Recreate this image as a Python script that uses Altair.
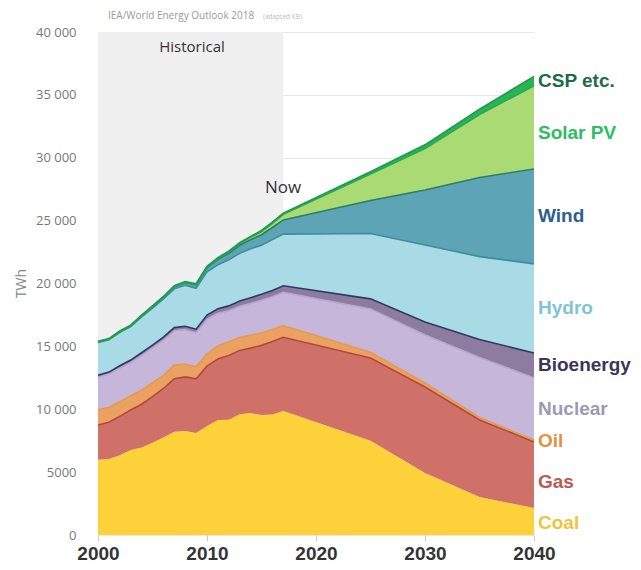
import altair as alt
import pandas as pd

# ---------------- data (TWh) ----------------
years = [2000, 2001, 2002, 2003, 2004, 2005, 2006, 2007, 2008, 2009, 2010,
         2011, 2012, 2013, 2014, 2015, 2016, 2017, 2025, 2030, 2035, 2040]

coal = [5994, 6050, 6350, 6760, 6950, 7330, 7760, 8220, 8270, 8120, 8660,
        9140, 9170, 9600, 9700, 9540, 9590, 9860, 7500, 4930, 3020, 2150]
gas = [2750, 2910, 3080, 3180, 3450, 3680, 3890, 4200, 4300, 4300, 4770,
       4860, 5100, 5080, 5160, 5540, 5790, 5860, 6580, 6840, 6130, 5250]
oil = [1212, 1180, 1160, 1140, 1120, 1100, 1050, 1100, 1030, 960, 970,
       1040, 1100, 1030, 1020, 1010, 960, 940, 450, 320, 190, 160]
nuclear = [2591, 2653, 2696, 2640, 2766, 2768, 2793, 2719, 2731, 2697, 2756,
           2584, 2461, 2478, 2535, 2571, 2606, 2637, 3450, 3810, 4780, 4930]
bioenergy = [155, 160, 175, 190, 205, 220, 235, 255, 270, 290, 330,
             360, 390, 420, 450, 480, 500, 520, 800, 1040, 1420, 1990]
hydro = [2618, 2570, 2650, 2660, 2850, 2950, 3040, 3080, 3260, 3250, 3440,
         3500, 3660, 3790, 3900, 3900, 4050, 4110, 5200, 6120, 6600, 7080]
wind = [31, 38, 52, 63, 85, 104, 133, 171, 220, 275, 342,
        437, 524, 640, 712, 838, 960, 1130, 2620, 4370, 6290, 7550]
solar_pv = [1, 1, 2, 2, 3, 4, 6, 8, 12, 21, 32,
            64, 100, 139, 190, 250, 330, 440, 2100, 3300, 5010, 6610]
csp_etc = [53, 54, 55, 57, 58, 60, 62, 64, 66, 68, 70,
           72, 74, 78, 80, 85, 90, 100, 180, 300, 420, 750]

series = ["Coal", "Gas", "Oil", "Nuclear", "Bioenergy", "Hydro", "Wind",
          "Solar PV", "CSP etc."]
series_values = [coal, gas, oil, nuclear, bioenergy, hydro, wind, solar_pv, csp_etc]

y_ticks = [0, 5000, 10000, 15000, 20000, 25000, 30000, 35000, 40000]
x_ticks = [2000, 2010, 2020, 2030, 2040]
historical_start, historical_end = 2000, 2017

# ---------------- styles ----------------
fills = ["#FDD13A", "#CF7168", "#EBA161", "#C5B6DA", "#8D7CA0", "#A9DBE6",
         "#5DA4B6", "#A9DA74", "#27B457"]
strokes = ["#FDD13A", "#B24A3C", "#E39A52", "#B8A8D0", "#2F3A62", "#3E8E9C",
           "#2C7F63", "#2AA852", "#1E9A4C"]
label_colors = ["#EEC43E", "#BA5A50", "#E2913F", "#9C99B2", "#3E3554",
                "#7FC4D4", "#2E5E8C", "#2EBD5F", "#1E6B47"]
# where each end label sits inside its band (0 = bottom, 1 = top)
label_frac = [0.44, 0.39, 0.5, 0.5, 0.5, 0.5, 0.5, 0.43, 0.5]

# ---------------- build stacked table ----------------
rows = []
base = [0] * len(years)
for i, (s, vals) in enumerate(zip(series, series_values)):
    for j, yr in enumerate(years):
        rows.append(dict(series=s, order=i, year=yr,
                         bottom=base[j], top=base[j] + vals[j]))
    base = [b + v for b, v in zip(base, vals)]
df = pd.DataFrame(rows)

lab = df[df.year == years[-1]].copy().reset_index(drop=True)
lab["frac"] = label_frac
lab["mid"] = lab.bottom + (lab.top - lab.bottom) * lab.frac
lab["lcolor"] = label_colors

W, H = 436, 503

xscale = alt.Scale(domain=[2000, 2040], nice=False, zero=False)
yscale = alt.Scale(domain=[0, 40000], nice=False)

xaxis = alt.Axis(values=x_ticks, format="d", labelFont="Liberation Sans",
                 labelFontSize=19, labelFontWeight="bold", labelColor="#333333",
                 labelFlush=False, tickColor="#cccccc", tickSize=6, labelPadding=3,
                 domain=False, grid=False, title=None)
yaxis = alt.Axis(values=y_ticks,
                 labelExpr="datum.value >= 10000 ? replace(format(datum.value, ','), ',', ' ') : format(datum.value, 'd')",
                 labelFont="Open Sans", labelFontSize=13, labelColor="#777777",
                 labelPadding=22, ticks=False, domain=False,
                 gridColor="#e6e6e6", title="TWh", titleFont="Open Sans",
                 titleFontSize=14, titleFontWeight="normal", titleColor="#888888",
                 titleX=-70, titleY=251)

shade = alt.Chart(pd.DataFrame({"start": [historical_start], "end": [historical_end]})).mark_rect(
    color="#f0f0f0").encode(
    x=alt.X("start:Q", scale=xscale, axis=xaxis),
    x2="end:Q",
    y=alt.value(0), y2=alt.value(H))

areas = alt.Chart(df).mark_area(interpolate="linear").encode(
    x=alt.X("year:Q", scale=xscale, axis=xaxis),
    y=alt.Y("top:Q", scale=yscale, axis=yaxis),
    y2="bottom:Q",
    color=alt.Color("series:N", scale=alt.Scale(domain=series, range=fills), legend=None),
    order="order:Q")

lines = alt.Chart(df).transform_filter(alt.datum.series != "Coal").mark_line(
    strokeWidth=1.6, interpolate="linear").encode(
    x=alt.X("year:Q", scale=xscale, axis=xaxis),
    y=alt.Y("top:Q", scale=yscale, axis=yaxis),
    stroke=alt.Stroke("series:N", scale=alt.Scale(domain=series, range=strokes), legend=None),
    order="year:Q")

labels = alt.Chart(lab).mark_text(align="left", baseline="middle", dx=4,
                                  font="Liberation Sans", fontSize=19,
                                  fontWeight="bold").encode(
    x=alt.X("year:Q", scale=xscale, axis=xaxis),
    y=alt.Y("mid:Q", scale=yscale, axis=yaxis),
    text="series:N",
    color=alt.Color("lcolor:N", scale=None))

hist_txt = alt.Chart(pd.DataFrame({"t": ["Historical"]})).mark_text(
    font="Open Sans", fontSize=15, color="#333333", baseline="middle").encode(
    x=alt.value(94), y=alt.value(15), text="t:N")

now_txt = alt.Chart(pd.DataFrame({"t": ["Now"]})).mark_text(
    font="Open Sans", fontSize=17, color="#333333", baseline="middle").encode(
    x=alt.value(185), y=alt.value(156), text="t:N")

src1 = alt.Chart(pd.DataFrame({"t": ["IEA/World Energy Outlook 2018"]})).mark_text(
    font="Open Sans", fontSize=10, color="#9a9a9a", align="left", baseline="middle").encode(
    x=alt.value(10), y=alt.value(-16), text="t:N")
src2 = alt.Chart(pd.DataFrame({"t": ["(adapted KB)"]})).mark_text(
    font="Open Sans", fontSize=6.5, color="#bbbbbb", align="left", baseline="middle").encode(
    x=alt.value(165), y=alt.value(-15), text="t:N")

chart = alt.layer(shade, areas, lines, labels, hist_txt, now_txt, src1, src2).properties(
    width=W, height=H,
    autosize=alt.AutoSizeParams(type="none"),
    padding={"left": 90, "top": 24, "right": 99, "bottom": 27},
    background="white",
).configure_view(stroke=None)

chart.save("out.html", embed_options={"renderer": "svg", "actions": False})
